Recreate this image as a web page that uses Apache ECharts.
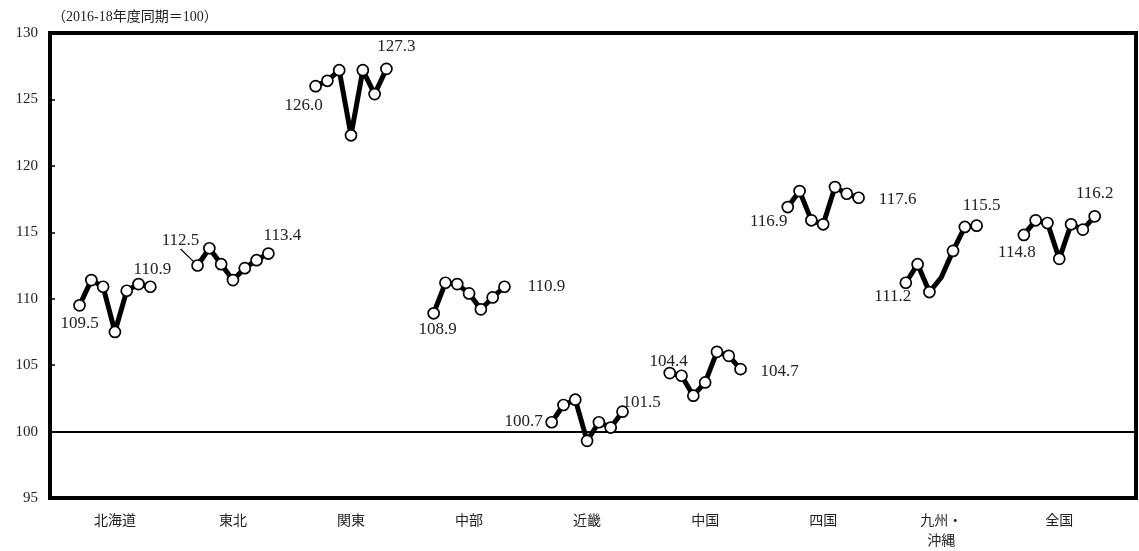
<!DOCTYPE html>
<html>
<head>
<meta charset="utf-8">
<script src="https://cdn.jsdelivr.net/npm/echarts@6/dist/echarts.min.js"></script>
<style>
  html, body { margin: 0; padding: 0; background: #fff; }
  #chart { width: 1139px; height: 551px; }
</style>
</head>
<body>
<div id="chart"></div>
<script>
// Regional index by period (2016-18 same period = 100), seven periods per region
const regions = ['北海道', '東北', '関東', '中部', '近畿', '中国', '四国', '九州・\n沖縄', '全国'];

const hokkaido = [109.5, 111.4, 110.9, 107.5, 110.6, 111.1, 110.9];
const tohoku   = [112.5, 113.8, 112.6, 111.4, 112.3, 112.9, 113.4];
const kanto    = [126.0, 126.4, 127.2, 122.3, 127.2, 125.4, 127.3];
const chubu    = [108.9, 111.2, 111.1, 110.4, 109.2, 110.1, 110.9];
const kinki    = [100.7, 102.0, 102.4, 99.3, 100.7, 100.3, 101.5];
const chugoku  = [104.4, 104.2, 102.7, 103.7, 106.0, 105.7, 104.7];
const shikoku  = [116.9, 118.1, 115.9, 115.6, 118.4, 117.9, 117.6];
const kyushu   = [111.2, 112.6, 110.5, 111.6, 113.6, 115.4, 115.5];
const zenkoku  = [114.8, 115.9, 115.7, 113.0, 115.6, 115.2, 116.2];

const yTicks = { min: 95, max: 130, step: 5 };
const baseline = 100;

const regionSeries = [hokkaido, tohoku, kanto, chubu, kinki, chugoku, shikoku, kyushu, zenkoku];

// Layout: each region occupies 10 slots on the category axis; its points sit in slots 2..8
const SLOTS_PER_GROUP = 10;
const FIRST_SLOT = 2;
const TOTAL_SLOTS = 92;

// Label offsets (px) for the first and last point of each region
const labelOffsets = [
  [[0, 18], [2, -17]],
  [[-17, -25], [14, -18]],
  [[-12, 19], [10, -22]],
  [[4, 16], [42, 0]],
  [[-28, -1], [19, -9]],
  [[-1, -12], [39, 2]],
  [[-19, 14], [39, 2]],
  [[-13, 14], [5, -20]],
  [[-7, 18], [0, -23]]
];

const FONT_NUM = '"Liberation Serif", "DejaVu Serif", "Noto Sans CJK JP", serif';
const FONT_CJK = '"Noto Sans CJK JP", "Liberation Serif", sans-serif';

const slotLabels = [];
for (let i = 0; i < TOTAL_SLOTS; i++) {
  const g = Math.floor(i / SLOTS_PER_GROUP);
  slotLabels.push(i % SLOTS_PER_GROUP === 5 && g < regions.length ? regions[g] : '');
}

const series = regionSeries.map((vals, g) => {
  const data = new Array(TOTAL_SLOTS).fill(null);
  const firstIdx = g * SLOTS_PER_GROUP + FIRST_SLOT;
  const lastIdx = firstIdx + vals.length - 1;
  const useLayout = g === 1; // 東北: first label is pulled away with a leader line
  vals.forEach((v, k) => {
    const item = { value: v };
    const isFirst = k === 0, isLast = k === vals.length - 1;
    if (isFirst || isLast) {
      const off = labelOffsets[g][isFirst ? 0 : 1];
      item.label = {
        show: true,
        position: 'inside',
        offset: useLayout ? [0, 0] : off,
        formatter: (p) => Number(p.value).toFixed(1)
      };
      if (useLayout && isLast) item.labelLine = { show: false };
    }
    // the fourth 九州・沖縄 point is drawn without a marker
    if (g === 7 && k === 3) item.symbol = 'none';
    data[firstIdx + k] = item;
  });
  const s = {
    type: 'line',
    name: regions[g],
    data: data,
    connectNulls: false,
    showAllSymbol: true,
    symbol: 'circle',
    symbolSize: 11,
    z: 3,
    lineStyle: { color: '#000', width: 5 },
    itemStyle: { color: '#fff', borderColor: '#000', borderWidth: 1.7 },
    label: {
      show: false,
      color: '#222',
      fontFamily: FONT_NUM,
      fontSize: 17
    },
    emphasis: { disabled: true },
    animation: false
  };
  if (useLayout) {
    s.labelLine = { show: true, lineStyle: { color: '#000', width: 1.2 } };
    s.labelLayout = (p) => {
      if (p.dataIndex === firstIdx) return { dx: labelOffsets[g][0][0], dy: labelOffsets[g][0][1] };
      if (p.dataIndex === lastIdx) return { dx: labelOffsets[g][1][0], dy: labelOffsets[g][1][1] };
      return {};
    };
  }
  if (g === 0) {
    s.markLine = {
      silent: true,
      symbol: 'none',
      label: { show: false },
      lineStyle: { color: '#000', width: 2, type: 'solid' },
      data: [{ yAxis: baseline }],
      z: 1
    };
  }
  return s;
});

const chart = echarts.init(document.getElementById('chart'), null, { renderer: 'canvas' });
chart.setOption({
  animation: false,
  backgroundColor: '#fff',
  grid: {
    left: 50, right: 3, top: 33, bottom: 53,
    show: true,
    borderColor: '#000',
    borderWidth: 4,
    containLabel: false,
    outerBoundsMode: 'none'
  },
  xAxis: {
    type: 'category',
    data: slotLabels,
    boundaryGap: true,
    axisLine: { show: false },
    axisTick: { show: false },
    axisLabel: {
      interval: (idx) => idx % SLOTS_PER_GROUP === 5,
      color: '#222',
      fontFamily: FONT_CJK,
      fontSize: 14,
      margin: 12,
      lineHeight: 20
    },
    splitLine: { show: false }
  },
  yAxis: {
    type: 'value',
    min: yTicks.min,
    max: yTicks.max,
    interval: yTicks.step,
    name: '（2016-18年度同期＝100）',
    nameLocation: 'end',
    nameGap: 9,
    nameTextStyle: {
      align: 'left',
      color: '#222',
      fontFamily: FONT_NUM,
      fontSize: 14,
      padding: [0, 0, 0, 2]
    },
    axisLine: { show: false },
    axisTick: { show: true, inside: true, length: 5, lineStyle: { color: '#000', width: 1.5 } },
    axisLabel: {
      color: '#222',
      fontFamily: FONT_NUM,
      fontSize: 15,
      margin: 12
    },
    splitLine: { show: false }
  },
  series: series
});
</script>
</body>
</html>
